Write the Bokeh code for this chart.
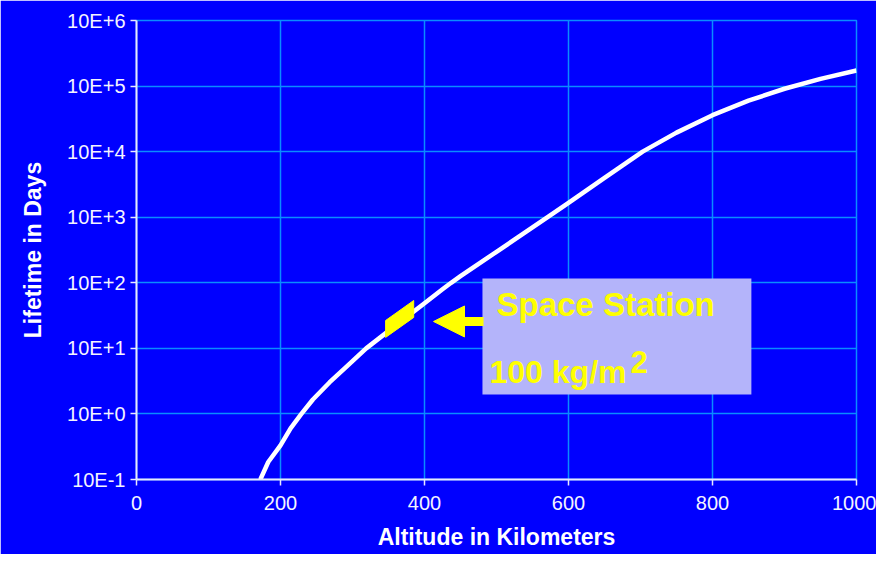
from bokeh.plotting import figure
from bokeh.models import (FixedTicker, BoxAnnotation, Arrow, NormalHead,
                          ColumnDataSource, Range1d)
from bokeh.core.properties import value
from bokeh.embed import file_html
from bokeh.resources import INLINE

# ---- data ----
altitude_km = [172, 183, 200, 214, 229, 245, 268, 294, 319, 340, 370, 400,
               425, 437, 450, 500, 550, 571, 600, 633, 650, 703, 750, 800,
               850, 900, 950, 1000]
lifetime_days = [0.1, 0.185, 0.331, 0.603, 1.0, 1.66, 3.02, 5.56, 10, 15.1,
                 27.2, 48.9, 79.6, 100, 126, 297, 698, 1000, 1660, 2950,
                 3980, 10000, 19500, 36000, 60000, 91000, 129000, 173000]

x_ticks = [0, 200, 400, 600, 800, 1000]
y_ticks = [0.1, 1, 10, 100, 1000, 10000, 100000, 1000000]
y_tick_labels = ["10E-1", "10E+0", "10E+1", "10E+2", "10E+3", "10E+4",
                 "10E+5", "10E+6"]

# annotation (space station marker) in data units
marker_x = [346, 385, 385, 346]
marker_y = [26.6, 53.7, 29.6, 14.7]
box_label_1 = "Space Station"
box_label_2 = "100 kg/m"
box_label_sup = "2"

BG = "#0000FF"
GRID = "#0A8CFF"
AXIS = "#E8E8FF"
YELLOW = "#FFFF00"
FONT = "Liberation Sans"

p = figure(width=876, height=554,
           x_range=Range1d(0, 1000), y_range=Range1d(0.1, 1e6),
           y_axis_type="log", output_backend="svg", toolbar_location=None,
           min_border_left=136, min_border_right=20, min_border_top=20,
           min_border_bottom=75)

p.background_fill_color = BG
p.border_fill_color = BG
p.outline_line_color = GRID
p.outline_line_width = 1.5

# axes
p.xaxis.ticker = FixedTicker(ticks=x_ticks, minor_ticks=[])
p.yaxis.ticker = FixedTicker(ticks=y_ticks, minor_ticks=[])
p.yaxis.major_label_overrides = {t: l for t, l in zip(y_ticks, y_tick_labels)}

for ax in (p.xaxis[0], p.yaxis[0]):
    ax.axis_line_color = AXIS
    ax.axis_line_width = 2
    ax.major_tick_line_color = AXIS
    ax.major_tick_line_width = 1.5
    ax.major_tick_in = 0
    ax.major_tick_out = 6
    ax.minor_tick_line_color = None
    ax.major_label_text_color = "#F4F4FF"
    ax.major_label_text_font = FONT
    ax.major_label_text_font_size = "20px"
    ax.axis_label_text_color = "#FFFFFF"
    ax.axis_label_text_font = FONT
    ax.axis_label_text_font_style = "bold"
    ax.axis_label_text_font_size = "23px"

p.xaxis.axis_label = "Altitude in Kilometers"
p.yaxis.axis_label = "Lifetime in Days"
p.xaxis.major_label_standoff = 10
p.yaxis.major_label_standoff = 5
p.xaxis.axis_label_standoff = 11
p.yaxis.axis_label_standoff = 18

p.grid.grid_line_color = GRID
p.grid.grid_line_width = 1.5

# curve
src = ColumnDataSource(dict(alt=altitude_km, life=lifetime_days))
p.line("alt", "life", source=src, line_color="#FFFFFF", line_width=4.5,
       line_join="round")

# yellow marker on the curve
p.patch(marker_x, marker_y, fill_color=YELLOW, line_color=YELLOW)

# label box
p.add_layout(BoxAnnotation(left=480.5, right=854, bottom=1.98, top=116,
                           fill_color="#B4B4FA", fill_alpha=1.0,
                           line_alpha=0.0))

# arrow pointing to marker
p.add_layout(Arrow(end=NormalHead(size=31, fill_color=YELLOW,
                                  line_color=YELLOW),
                   x_start=482, y_start=25.7, x_end=412.5, y_end=25.7,
                   line_color=YELLOW, line_width=9))

txt = ColumnDataSource(dict(x=[500, 490.3], y=[30.6, 2.91],
                            t=[box_label_1, box_label_2],
                            s=["33px", "32px"]))
p.text("x", "y", text="t", source=txt, text_color=YELLOW,
       text_font=value(FONT), text_font_style="bold",
       text_font_size="s", text_baseline="alphabetic", text_align="left",
       y_offset=-12, level="overlay")
p.text(x=[686], y=[4.28], text=[box_label_sup], text_color=YELLOW,
       text_font=value(FONT), text_font_style="bold",
       text_font_size="31px", text_baseline="alphabetic", text_align="left",
       y_offset=-11, level="overlay")

open("out.html", "w").write(file_html(p, INLINE))
